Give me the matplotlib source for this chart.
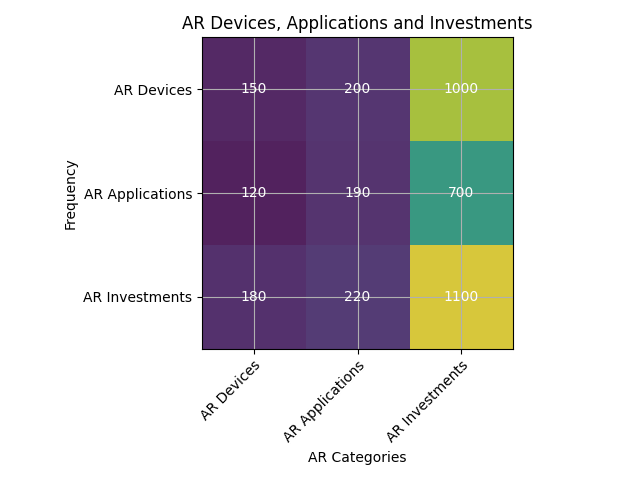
import numpy as np
import matplotlib
matplotlib.use('Agg')
import matplotlib.pyplot as plt

categories = ['AR Devices', 'AR Applications', 'AR Investments']
row_labels = ['AR Devices', 'AR Applications', 'AR Investments']
devices = [150, 200, 1000]
applications = [120, 190, 700]
investments = [180, 220, 1100]

data = np.array([devices, applications, investments])

fig, ax = plt.subplots(figsize=(6.4, 4.8), dpi=100)
ax.set_facecolor('#787878')
ax.imshow(data, cmap='viridis', alpha=0.72)

ax.set_xticks(np.arange(len(categories)))
ax.set_yticks(np.arange(len(row_labels)))
ax.set_xticklabels(categories, rotation=45, ha='right', rotation_mode='anchor')
ax.set_yticklabels(row_labels)

for i in range(data.shape[0]):
    for j in range(data.shape[1]):
        ax.text(j, i, str(data[i, j]), ha='center', va='center', color='white')

ax.grid(True)
ax.set_title('AR Devices, Applications and Investments')
ax.set_xlabel('AR Categories')
ax.set_ylabel('Frequency')

plt.tight_layout()
plt.savefig('out.png')
